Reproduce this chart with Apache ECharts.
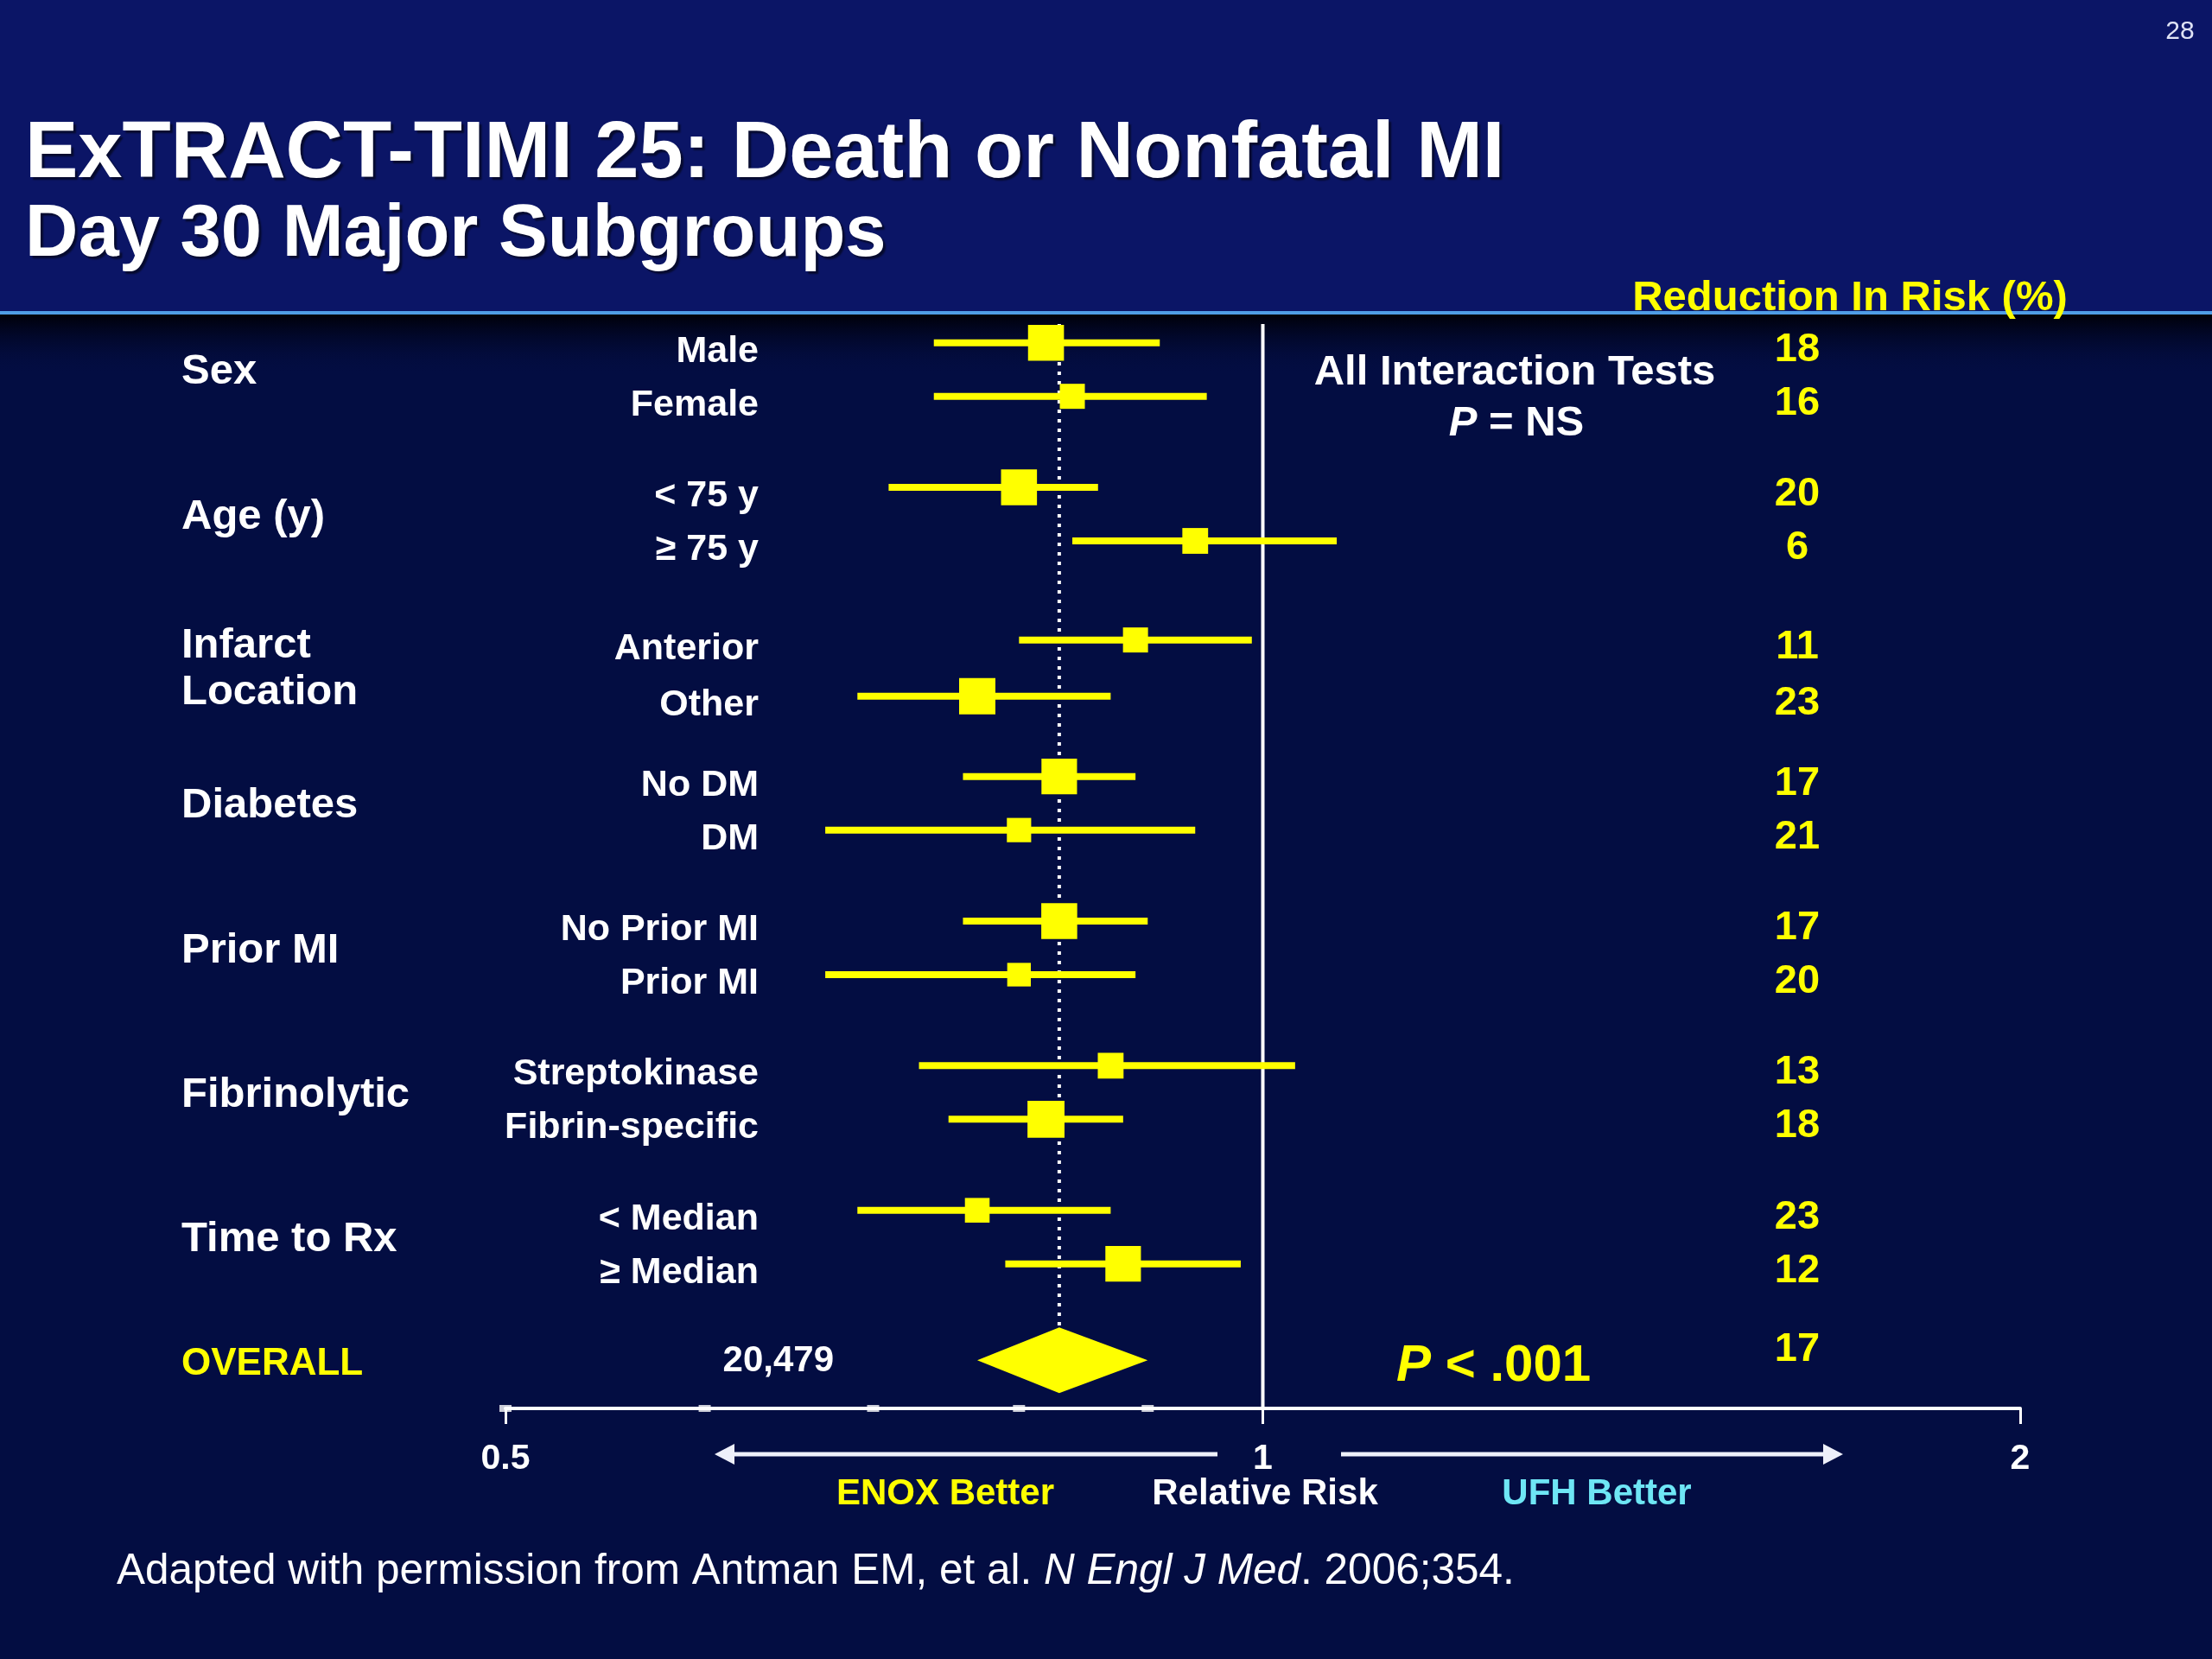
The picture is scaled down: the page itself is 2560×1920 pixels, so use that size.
<!DOCTYPE html>
<html>
<head>
<meta charset="utf-8">
<script src="https://cdn.jsdelivr.net/npm/echarts@6/dist/echarts.min.js"></script>
<style>
  html, body { margin: 0; padding: 0; background: #030d42; }
  #chart { width: 2560px; height: 1920px; }
</style>
</head>
<body>
<div id="chart"></div>
<script>
// ---------------- DATA ----------------
const groups = ['Sex', 'Age (y)', 'Infarct\nLocation', 'Diabetes', 'Prior MI', 'Fibrinolytic', 'Time to Rx'];
const subgroups = ['Male', 'Female', '< 75 y', '≥ 75 y', 'Anterior', 'Other', 'No DM', 'DM',
                   'No Prior MI', 'Prior MI', 'Streptokinase', 'Fibrin-specific', '< Median', '≥ Median'];
const rrEstimate = [0.82, 0.84, 0.80, 0.94, 0.89, 0.77, 0.83, 0.80, 0.83, 0.80, 0.87, 0.82, 0.77, 0.88];
const ciLower    = [0.74, 0.74, 0.71, 0.84, 0.80, 0.69, 0.76, 0.67, 0.76, 0.67, 0.73, 0.75, 0.69, 0.79];
const ciUpper    = [0.91, 0.95, 0.86, 1.07, 0.99, 0.87, 0.89, 0.94, 0.90, 0.89, 1.03, 0.88, 0.87, 0.98];
const markerWeight = [0.99, 0.69, 0.99, 0.71, 0.69, 1.0, 0.98, 0.67, 0.99, 0.65, 0.71, 1.02, 0.68, 0.98];
const riskReduction = [18, 16, 20, 6, 11, 23, 17, 21, 17, 20, 13, 18, 23, 12];
const overallLabel = 'OVERALL';
const overallN = '20,479';
const overallRR = [0.77, 0.83, 0.90];   // lower, estimate, upper
const overallReduction = 17;
const nullEffect = 1;
const minorTickValues = [0.5, 0.6, 0.7, 0.8, 0.9];

// ---------------- LAYOUT ----------------
const FONT = "'Liberation Sans', Arial, Helvetica, sans-serif";
const YELLOW = '#ffff00';
const WHITE = '#ffffff';
const CYAN = '#6ee6f5';
const GROUP_STEP = 2.7;
const Y_MIN = -0.35, Y_MAX = 19.9;
const OVERALL_POS = 19.0;
const groupShift = [0, 0, 0.15, 0, 0, 0, 0];
const rowPos = i => Math.floor(i / 2) * GROUP_STEP + groupShift[Math.floor(i / 2)] + (i % 2) * (i === 5 ? 1.05 : 1);
const groupPos = g => g * GROUP_STEP + groupShift[g] + 0.5;
const BASE_SQUARE = 42;

const COL_GROUP = 210, COL_SUB = 878, COL_N = 965, COL_RED = 2080;

const chart = echarts.init(document.getElementById('chart'), null, { renderer: 'canvas' });

function textEl(x, y, text, opt) {
  return {
    type: 'text', x: x, y: y, z: 10,
    style: Object.assign({
      text: text, fill: WHITE, fontFamily: FONT, fontSize: 43, fontWeight: 'bold',
      align: 'left', verticalAlign: 'middle'
    }, opt || {})
  };
}

const subgroupData = subgroups.map((_, i) => [ciLower[i], ciUpper[i], rrEstimate[i], rowPos(i), markerWeight[i]]);

const option = {
  backgroundColor: '#030d42',
  animation: false,
  title: [
    { text: 'ExTRACT-TIMI 25: Death or Nonfatal MI', left: 29, top: 134, padding: 0,
      textStyle: { color: WHITE, fontSize: 92, fontWeight: 'bold', fontFamily: FONT,
                   textShadowColor: 'rgba(0,0,0,0.55)', textShadowOffsetX: 3, textShadowOffsetY: 3, textShadowBlur: 2 } },
    { text: 'Day 30 Major Subgroups', left: 29, top: 230, padding: 0,
      textStyle: { color: WHITE, fontSize: 85, fontWeight: 'bold', fontFamily: FONT,
                   textShadowColor: 'rgba(0,0,0,0.55)', textShadowOffsetX: 3, textShadowOffsetY: 3, textShadowBlur: 2 } }
  ],
  grid: { left: 585, right: 222, top: 375, bottom: 290 },
  xAxis: {
    type: 'log', logBase: 2, min: 0.5, max: 2,
    axisLine: { show: true, onZero: false, lineStyle: { color: WHITE, width: 4 } },
    axisTick: { show: true, length: 18, lineStyle: { color: WHITE, width: 3 } },
    axisLabel: { color: WHITE, fontSize: 41, fontWeight: 'bold', fontFamily: FONT, margin: 38 },
    splitLine: { show: false },
    minorTick: { show: false },
    minorSplitLine: { show: false }
  },
  yAxis: { type: 'value', inverse: true, min: Y_MIN, max: Y_MAX, show: false },
  graphic: {
    elements: [
      { type: 'rect', shape: { x: 0, y: 0, width: 2560, height: 362 }, style: { fill: '#0b1566' }, z: 0 },
      { type: 'rect', shape: { x: 0, y: 364, width: 2560, height: 70 }, z: 0,
        style: { fill: new echarts.graphic.LinearGradient(0, 0, 0, 1, [
          { offset: 0, color: '#000008' }, { offset: 1, color: 'rgba(3,13,66,0)' }]) } },
      { type: 'rect', shape: { x: 0, y: 360, width: 2560, height: 4 }, style: { fill: '#4f9de6' }, z: 1 },
      textEl(2523, 37, '28', { fontSize: 30, fontWeight: 'normal', align: 'center', fill: '#dfe3f5' }),
      textEl(2141, 345, 'Reduction In Risk (%)', { fontSize: 49, fill: YELLOW, align: 'center' }),
      textEl(1753, 431, 'All Interaction Tests', { fontSize: 49, align: 'center' }),
      textEl(1755, 490, '{i|P}{n| = NS}', { align: 'center',
        rich: { i: { fontSize: 49, fontWeight: 'bold', fontStyle: 'italic', fontFamily: FONT, fill: WHITE },
                n: { fontSize: 49, fontWeight: 'bold', fontFamily: FONT, fill: WHITE } } }),
      textEl(1616, 1581, '{i|P}{n| < .001}', {
        rich: { i: { fontSize: 60, fontWeight: 'bold', fontStyle: 'italic', fontFamily: FONT, fill: YELLOW },
                n: { fontSize: 60, fontWeight: 'bold', fontFamily: FONT, fill: YELLOW } } }),
      // arrows
      { type: 'line', shape: { x1: 1409, y1: 1683, x2: 840, y2: 1683 }, style: { stroke: '#eef0fa', lineWidth: 5 }, z: 5 },
      { type: 'polygon', shape: { points: [[827, 1683], [850, 1671], [850, 1695]] }, style: { fill: '#eef0fa' }, z: 5 },
      { type: 'line', shape: { x1: 1552, y1: 1683, x2: 2120, y2: 1683 }, style: { stroke: '#eef0fa', lineWidth: 5 }, z: 5 },
      { type: 'polygon', shape: { points: [[2133, 1683], [2110, 1671], [2110, 1695]] }, style: { fill: '#eef0fa' }, z: 5 },
      textEl(1094, 1729, 'ENOX Better', { fontSize: 42, fill: YELLOW, align: 'center' }),
      textEl(1464, 1729, 'Relative Risk', { fontSize: 42, align: 'center' }),
      textEl(1848, 1729, 'UFH Better', { fontSize: 42, fill: CYAN, align: 'center' }),
      textEl(135, 1819, '{n|Adapted with permission from Antman EM, et al. }{i|N Engl J Med}{n|. 2006;354.}', {
        rich: { n: { fontSize: 49.5, fontWeight: 'normal', fontFamily: FONT, fill: WHITE },
                i: { fontSize: 49.5, fontWeight: 'normal', fontStyle: 'italic', fontFamily: FONT, fill: WHITE } } })
    ]
  },
  series: [
    { // null-effect line
      type: 'line', data: [[nullEffect, Y_MIN], [nullEffect, Y_MAX]], symbol: 'none', z: 1,
      lineStyle: { color: WHITE, width: 4 }, silent: true
    },
    { // overall estimate dotted line
      type: 'line', data: [[overallRR[1], Y_MIN], [overallRR[1], OVERALL_POS]], symbol: 'none', z: 1,
      lineStyle: { color: WHITE, width: 4, type: [4, 7] }, silent: true
    },
    { // minor tick marks on axis
      type: 'scatter', data: minorTickValues.map(v => [v, Y_MAX]), symbol: 'rect', symbolSize: [14, 8],
      itemStyle: { color: WHITE }, clip: false, z: 3, silent: true
    },
    { // subgroup CIs and squares
      type: 'custom', data: subgroupData, encode: { x: [0, 1, 2], y: 3 }, z: 4,
      renderItem: function (params, api) {
        const y = api.value(3);
        const lo = api.coord([api.value(0), y]);
        const hi = api.coord([api.value(1), y]);
        const c = api.coord([api.value(2), y]);
        const s = BASE_SQUARE * api.value(4);
        return { type: 'group', children: [
          { type: 'line', shape: { x1: lo[0], y1: lo[1], x2: hi[0], y2: hi[1] }, style: { stroke: YELLOW, lineWidth: 8 } },
          { type: 'rect', shape: { x: c[0] - s / 2, y: c[1] - s / 2, width: s, height: s }, style: { fill: YELLOW } }
        ] };
      }
    },
    { // overall diamond
      type: 'custom', data: [[overallRR[0], overallRR[2], overallRR[1], OVERALL_POS]], encode: { x: [0, 1, 2], y: 3 }, z: 4,
      renderItem: function (params, api) {
        const y = api.value(3);
        const lo = api.coord([api.value(0), y]);
        const hi = api.coord([api.value(1), y]);
        const c = api.coord([api.value(2), y]);
        const h = 38;
        return { type: 'polygon', shape: { points: [[lo[0], lo[1]], [c[0], c[1] - h], [hi[0], hi[1]], [c[0], c[1] + h]] },
                 style: { fill: YELLOW } };
      }
    },
    { // subgroup labels and reduction values
      type: 'custom', data: subgroups.map((_, i) => [nullEffect, rowPos(i)]), encode: { x: 0, y: 1 }, z: 6, silent: true,
      renderItem: function (params, api) {
        const i = params.dataIndex;
        const p = api.coord([api.value(0), api.value(1)]);
        return { type: 'group', children: [
          textEl(COL_SUB, p[1] + 10, subgroups[i], { fontSize: 43, align: 'right' }),
          textEl(COL_RED, p[1] + 8, String(riskReduction[i]), { fontSize: 47, fill: YELLOW, align: 'center' })
        ] };
      }
    },
    { // group labels
      type: 'custom', data: groups.map((_, g) => [nullEffect, groupPos(g)]), encode: { x: 0, y: 1 }, z: 6, silent: true,
      renderItem: function (params, api) {
        const g = params.dataIndex;
        const p = api.coord([api.value(0), api.value(1)]);
        return textEl(COL_GROUP, p[1] + 3, groups[g], { fontSize: 49, lineHeight: 54 });
      }
    },
    { // overall row texts
      type: 'custom', data: [[nullEffect, OVERALL_POS]], encode: { x: 0, y: 1 }, z: 6, silent: true,
      renderItem: function (params, api) {
        const p = api.coord([api.value(0), api.value(1)]);
        return { type: 'group', children: [
          textEl(COL_GROUP, p[1] + 5, overallLabel, { fontSize: 44, fill: YELLOW }),
          textEl(COL_N, p[1] + 1, overallN, { fontSize: 42, align: 'right' }),
          textEl(COL_RED, p[1] - 12, String(overallReduction), { fontSize: 47, fill: YELLOW, align: 'center' })
        ] };
      }
    }
  ]
};

chart.setOption(option);
</script>
</body>
</html>
